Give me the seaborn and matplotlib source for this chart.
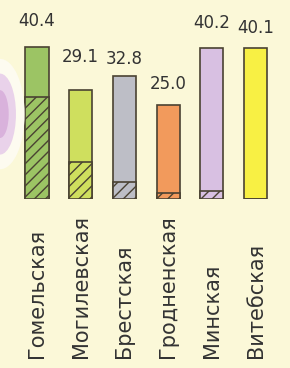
import matplotlib
matplotlib.use("Agg")
import matplotlib.pyplot as plt
from matplotlib.patches import Ellipse
import seaborn as sns
import pandas as pd

# data
regions = ["Гомельская", "Могилевская", "Брестская", "Гродненская", "Минская", "Витебская"]
totals = [40.4, 29.1, 32.8, 25.0, 40.2, 40.1]
hatched = [27.0, 9.8, 4.5, 1.6, 2.1, 0.0]
colors = ["#9cc464", "#cfdf5e", "#bdbec6", "#f29a5c", "#d8c0e2", "#f8f044"]
label_pad = [17, 24, 8, 12, 16, 11]  # gap between bar top and value label, px

bg = "#fbf8d8"
edge = "#4a4232"

sns.set_theme(style="white")
plt.rcParams["font.family"] = ["DejaVu Sans"]
plt.rcParams["hatch.linewidth"] = 1.0
plt.rcParams["hatch.color"] = edge

df = pd.DataFrame({"region": regions, "total": totals, "hatched": hatched})

fig = plt.figure(figsize=(2.9, 3.68), dpi=100)
fig.patch.set_facecolor(bg)

# piece of the map showing at the left edge
fig.patches.append(Ellipse((0.0, 0.69), 0.17, 0.30, transform=fig.transFigure,
                           facecolor="#fdfbf0", edgecolor="none", zorder=0))
fig.patches.append(Ellipse((0.0, 0.69), 0.11, 0.22, transform=fig.transFigure,
                           facecolor="#e9d2ea", edgecolor="none", zorder=0))
fig.patches.append(Ellipse((0.0, 0.69), 0.06, 0.13, transform=fig.transFigure,
                           facecolor="#d9b2dc", edgecolor="none", zorder=0))

ax = fig.add_axes([0, 1 - 199 / 368, 1, 199 / 368])
ax.patch.set_alpha(0)

sns.barplot(data=df, x="region", y="total", hue="region", palette=colors,
            legend=False, width=0.53, edgecolor=edge, linewidth=1.2,
            saturation=1, ax=ax)
sns.barplot(data=df, x="region", y="hatched", hue="region", palette=colors,
            legend=False, width=0.53, edgecolor=edge, linewidth=1.2,
            saturation=1, hatch="///", ax=ax)

for i, (v, p) in enumerate(zip(totals, label_pad)):
    ax.annotate(f"{v:.1f}", (i, v), xytext=(0, p * 0.72), textcoords="offset points",
                ha="center", va="bottom", fontsize=12, color="#333333")

# region names, rotated and aligned at the bottom
trans = matplotlib.transforms.blended_transform_factory(ax.transData, fig.transFigure)
for i, name in enumerate(regions):
    ax.text(i, 10 / 368, name, transform=trans, rotation=90, ha="center",
            va="bottom", fontsize=15, color="#333333")

spacing = 43.7
ax.set_xlim(-37 / spacing, (290 - 37) / spacing)
ax.set_ylim(0, 199 / 3.76)
ax.set_xlabel("")
ax.set_ylabel("")
ax.set_xticks([])
ax.set_yticks([])
for s in ax.spines.values():
    s.set_visible(False)

fig.savefig("out.png", dpi=100, facecolor=bg)
